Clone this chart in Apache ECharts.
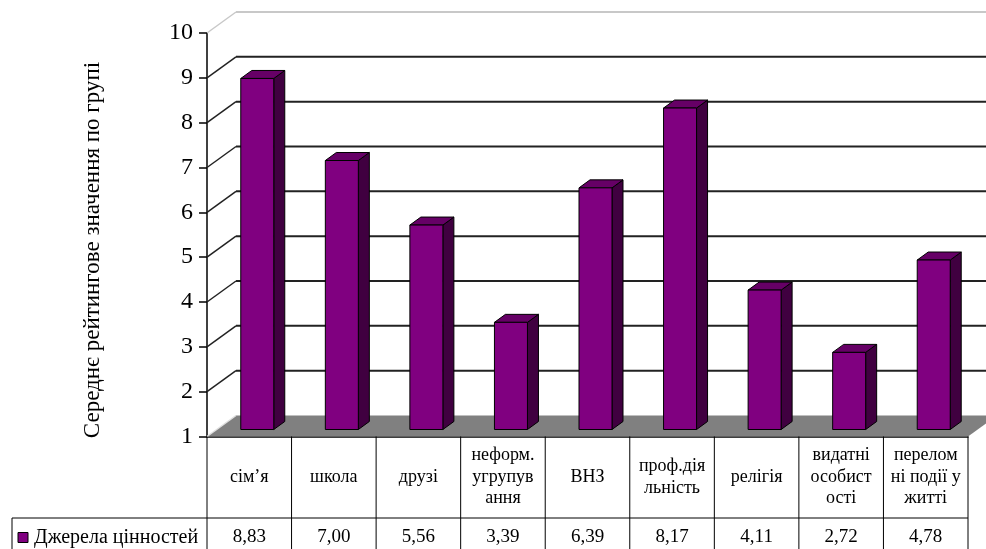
<!DOCTYPE html>
<html>
<head>
<meta charset="utf-8">
<script src="https://cdn.jsdelivr.net/npm/echarts@6/dist/echarts.min.js"></script>
<style>
html, body { margin: 0; padding: 0; background: #fff; }
#Chart { width: 986px; height: 549px; }
</style>
</head>
<body>
<div id="Chart"></div>
<script>
// дані
var categories = ["сім’я", "школа", "друзі", "неформ.\nугрупув\nання", "ВНЗ", "проф.дія\nльність", "релігія", "видатні\nособист\nості", "перелом\nні події у\nжитті"];
var values = [8.83, 7.00, 5.56, 3.39, 6.39, 8.17, 4.11, 2.72, 4.78];
var valueLabels = ["8,83", "7,00", "5,56", "3,39", "6,39", "8,17", "4,11", "2,72", "4,78"];
var yTicks = [1, 2, 3, 4, 5, 6, 7, 8, 9, 10];
var seriesName = "Джерела цінностей";
var yTitle = "Середнє рейтингове значення по групі";

var font = "'Liberation Serif', 'Times New Roman', serif";
var frontColor = "#800080";
var topColor = "#660066";
var sideColor = "#400040";
// зсув задньої стінки
var DX = 29, DY = -21;
// глибина стовпчика
var BDX = 11, BDY = -8;
var ROW1 = 81.5;

var myChart = echarts.init(document.getElementById("Chart"));

function renderWall(params, api) {
    var v = api.value(1);
    var cs = params.coordSys;
    var y = api.coord([0, v])[1];
    var x0 = cs.x, x1 = cs.x + cs.width;
    var children = [];
    if (v === yTicks[0]) {
        children.push({
            type: 'polygon',
            shape: { points: [[x0, y], [x1, y], [x1 + DX, y + DY], [x0 + DX, y + DY]] },
            style: { fill: '#808080', stroke: null }
        });
        children.push({
            type: 'line',
            shape: { x1: x0, y1: y, x2: x0 + DX, y2: y + DY },
            style: { stroke: '#e0e0e0', lineWidth: 1.5 }
        });
        return { type: 'group', children: children };
    }
    var col = v === yTicks[yTicks.length - 1] ? '#c8c8c8' : '#222';
    children.push({
        type: 'line',
        shape: { x1: x0, y1: y, x2: x0 + DX, y2: y + DY },
        style: { stroke: col, lineWidth: 1.5 }
    });
    children.push({
        type: 'line',
        shape: { x1: x0 + DX, y1: y + DY, x2: x1 + DX, y2: y + DY },
        style: { stroke: col, lineWidth: 2 }
    });
    return { type: 'group', children: children };
}

function renderBar(params, api) {
    var idx = params.dataIndex;
    var val = api.value(1);
    var band = api.size([1, 0])[0];
    var base = api.coord([idx, yTicks[0]]);
    var top = api.coord([idx, val]);
    var cx = base[0];
    var left = cx - 8.5, right = left + 33;
    var yb = base[1] - 7, yt = top[1] - 7;
    var bottomY = 560;
    var colL = cx - band / 2, colR = cx + band / 2;
    var lineStyle = { stroke: '#000', lineWidth: 1 };
    var children = [
        {
            type: 'polygon',
            shape: { points: [[right, yt], [right + BDX, yt + BDY], [right + BDX, yb + BDY], [right, yb]] },
            style: { fill: sideColor, stroke: '#000', lineWidth: 1 }
        },
        {
            type: 'polygon',
            shape: { points: [[left, yt], [left + BDX, yt + BDY], [right + BDX, yt + BDY], [right, yt]] },
            style: { fill: topColor, stroke: '#000', lineWidth: 1 }
        },
        {
            type: 'rect',
            shape: { x: left, y: yt, width: 33, height: yb - yt },
            style: { fill: frontColor, stroke: '#000', lineWidth: 1 }
        },
        // таблиця даних
        { type: 'line', shape: { x1: colL, y1: base[1], x2: colL, y2: bottomY }, style: lineStyle },
        { type: 'line', shape: { x1: colL, y1: base[1] + ROW1, x2: colR, y2: base[1] + ROW1 }, style: lineStyle },
        {
            type: 'text',
            style: {
                text: categories[idx], x: cx, y: base[1] + ROW1 / 2,
                align: 'center', verticalAlign: 'middle', lineHeight: 21.5,
                font: '18px ' + font, fill: '#000'
            }
        },
        {
            type: 'text',
            style: {
                text: valueLabels[idx], x: cx, y: base[1] + ROW1 + 19.5,
                align: 'center', verticalAlign: 'middle',
                font: '19px ' + font, fill: '#000'
            }
        }
    ];
    if (idx === values.length - 1) {
        children.push({ type: 'line', shape: { x1: colR, y1: base[1], x2: colR, y2: bottomY }, style: lineStyle });
    }
    if (idx === 0) {
        var ly = base[1] + ROW1;
        children.push({ type: 'line', shape: { x1: 12, y1: ly, x2: colL, y2: ly }, style: lineStyle });
        children.push({ type: 'line', shape: { x1: 12, y1: ly, x2: 12, y2: bottomY }, style: lineStyle });
        children.push({
            type: 'rect',
            shape: { x: 18, y: ly + 14.5, width: 10, height: 10 },
            style: { fill: frontColor, stroke: '#000', lineWidth: 1 }
        });
        children.push({
            type: 'text',
            style: {
                text: seriesName, x: 34, y: ly + 19.5,
                align: 'left', verticalAlign: 'middle',
                font: '20px ' + font, fill: '#000'
            }
        });
    }
    return { type: 'group', children: children };
}

var option = {
    animation: false,
    grid: {
        left: 207,
        right: 18,
        top: 33,
        bottom: 112.5
    },
    xAxis: {
        type: 'category',
        data: categories,
        axisLine: { show: true, lineStyle: { color: '#000', width: 1.5 } },
        axisTick: { show: false },
        axisLabel: { show: false },
        splitLine: { show: false }
    },
    yAxis: {
        type: 'value',
        min: 1,
        max: 10,
        interval: 1,
        axisLine: { show: true, lineStyle: { color: '#000', width: 1.5 } },
        axisTick: { show: true, length: 8, lineStyle: { color: '#000', width: 1.5 } },
        axisLabel: { color: '#000', fontSize: 24, fontFamily: font, margin: 14 },
        splitLine: { show: false }
    },
    graphic: [
        {
            type: 'text',
            x: 93,
            y: 250,
            rotation: Math.PI / 2,
            style: {
                text: yTitle,
                font: '23px ' + font,
                fill: '#000',
                align: 'center',
                verticalAlign: 'middle'
            }
        }
    ],
    series: [
        {
            type: 'custom',
            name: 'wall',
            clip: false,
            z: 1,
            renderItem: renderWall,
            data: yTicks.map(function (v) { return [0, v]; })
        },
        {
            type: 'custom',
            name: seriesName,
            clip: false,
            z: 3,
            renderItem: renderBar,
            data: values.map(function (v, i) { return [i, v]; })
        }
    ]
};
myChart.setOption(option);
window.addEventListener("resize", function () {
    myChart.resize();
});
</script>
</body>
</html>
